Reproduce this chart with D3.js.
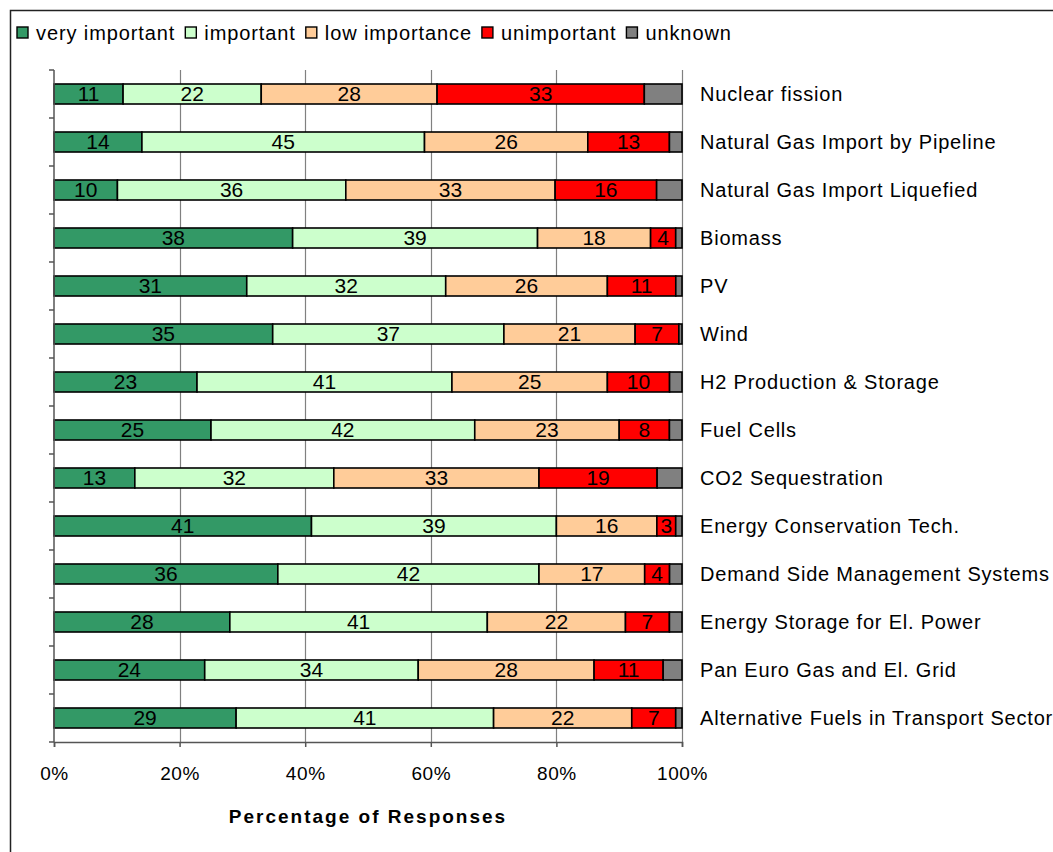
<!DOCTYPE html>
<html><head><meta charset="utf-8">
<script src="https://cdn.jsdelivr.net/npm/d3@7"></script>
<style>
html,body{margin:0;padding:0;background:#fff;}
svg text{font-family:"Liberation Sans",Arial,sans-serif;}
</style></head>
<body><svg id="c" width="1053" height="852"></svg>
<script>
const categories = ["Nuclear fission","Natural Gas Import by Pipeline","Natural Gas Import Liquefied","Biomass","PV","Wind","H2 Production & Storage","Fuel Cells","CO2 Sequestration","Energy Conservation Tech.","Demand Side Management Systems","Energy Storage for El. Power","Pan Euro Gas and El. Grid","Alternative Fuels in Transport Sector"];
const seriesNames = ["very important","important","low importance","unimportant","unknown"];
const veryImportant = [11,14,10,38,31,35,23,25,13,41,36,28,24,29];
const important     = [22,45,36,39,32,37,41,42,32,39,42,41,34,41];
const lowImportance = [28,26,33,18,26,21,25,23,33,16,17,22,28,22];
const unimportant   = [33,13,16,4,11,7,10,8,19,3,4,7,11,7];
const unknown       = [6,2,4,1,1,0.5,2,2,4,1,2,2,3,1];
const tickLabels = ["0%","20%","40%","60%","80%","100%"];
const colors = ["#339966","#ccffcc","#ffcc99","#ff0000","#808080"];

const seriesVals = [veryImportant, important, lowImportance, unimportant, unknown];
const rows = categories.map((c,i)=>{
  const o={cat:c};
  seriesNames.forEach((s,j)=>o[s]=seriesVals[j][i]);
  return o;
});

const svg = d3.select("#c");
const L=54, R=682, T=70, B=742;
const x = d3.scaleLinear().domain([0,1]).range([L,R]);
const y = d3.scaleBand().domain(categories).range([T,B]).paddingInner(0.5833).paddingOuter(0.2917);

// outer frame
svg.append("path").attr("d",`M10.5,${860} V10.5 H${1060}`).attr("fill","none").attr("stroke","#222").attr("stroke-width",1.5);

// gridlines
svg.append("g").selectAll("line").data([0.2,0.4,0.6,0.8,1.0]).join("line")
  .attr("x1",d=>Math.round(x(d))+0.5).attr("x2",d=>Math.round(x(d))+0.5)
  .attr("y1",T).attr("y2",B).attr("stroke","#808080").attr("stroke-width",1.2);

// stack
const stack = d3.stack().keys(seriesNames).offset(d3.stackOffsetExpand);
const layers = stack(rows);

const g = svg.append("g");
layers.forEach((layer,j)=>{
  g.append("g").selectAll("rect").data(layer).join("rect")
    .attr("x",d=>x(d[0])).attr("width",d=>x(d[1])-x(d[0]))
    .attr("y",d=>y(d.data.cat)).attr("height",y.bandwidth())
    .attr("fill",colors[j]).attr("stroke","#000").attr("stroke-width",1.6);
});
// labels
layers.forEach((layer,j)=>{
  if(j===4) return;
  g.append("g").selectAll("text").data(layer).join("text")
    .attr("x",d=>(x(d[0])+x(d[1]))/2).attr("y",d=>y(d.data.cat)+y.bandwidth()/2)
    .attr("dy","0.34em").attr("text-anchor","middle")
    .attr("font-size",21).attr("fill","#000")
    .text(d=>d.data[seriesNames[j]]);
});

// y axis
const yAxisG = svg.append("g").attr("transform",`translate(${L},0)`);
yAxisG.append("line").attr("x1",0).attr("x2",0).attr("y1",T).attr("y2",B).attr("stroke","#555").attr("stroke-width",1.5);
const bounds = d3.range(categories.length+1).map(k=>T+k*y.step());
yAxisG.selectAll("line.t").data(bounds).join("line").attr("class","t")
  .attr("x1",-5).attr("x2",0).attr("y1",d=>d).attr("y2",d=>d).attr("stroke","#555").attr("stroke-width",1.5);

// category labels
svg.append("g").selectAll("text").data(categories).join("text")
  .attr("x",700).attr("y",d=>y(d)+y.bandwidth()/2).attr("dy","0.34em")
  .attr("font-size",20).attr("letter-spacing","0.8px").attr("fill","#000").text(d=>d);

// x axis
const xAxis = d3.axisBottom(x).tickValues([0,0.2,0.4,0.6,0.8,1]).tickFormat((d,i)=>tickLabels[i]).tickSize(5).tickPadding(20);
const xg = svg.append("g").attr("transform",`translate(0,${B})`).call(xAxis);
xg.select(".domain").attr("stroke","#555").attr("stroke-width",1.5);
xg.selectAll(".tick line").attr("stroke","#555").attr("stroke-width",1.5);
xg.selectAll(".tick text").attr("font-size",19).attr("letter-spacing","0.6px").attr("fill","#000").attr("font-family",'"Liberation Sans",Arial,sans-serif');

// axis title
svg.append("text").attr("x",(L+R)/2).attr("y",816).attr("dy","0.36em").attr("text-anchor","middle")
  .attr("font-size",19).attr("font-weight","bold").attr("letter-spacing","2px").text("Percentage of Responses");

// legend
const leg = svg.append("g").attr("transform","translate(17,33)");
let lx=0;
seriesNames.forEach((s,j)=>{
  const it = leg.append("g").attr("transform",`translate(${lx},0)`);
  it.append("rect").attr("x",0).attr("y",-6).attr("width",11).attr("height",11).attr("fill",colors[j]).attr("stroke","#000").attr("stroke-width",1.4);
  const t = it.append("text").attr("x",19).attr("y",0).attr("dy","0.36em").attr("font-size",20).attr("letter-spacing","0.9px").text(s);
  lx += 19 + t.node().getComputedTextLength() + 10;
});
</script></body></html>
